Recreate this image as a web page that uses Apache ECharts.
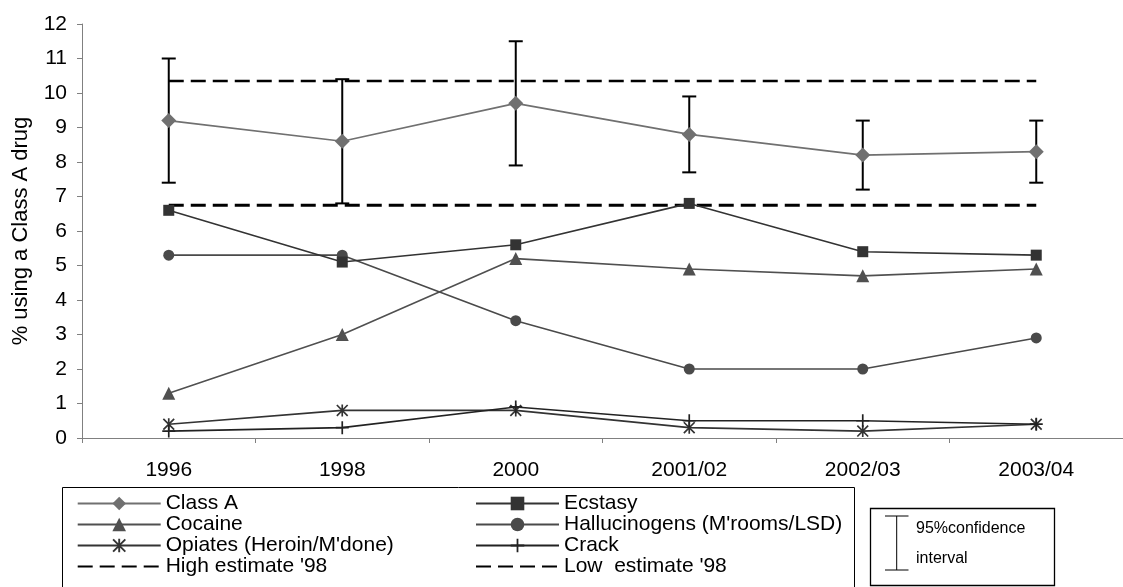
<!DOCTYPE html>
<html>
<head>
<meta charset="utf-8">
<script src="https://cdn.jsdelivr.net/npm/echarts@6/dist/echarts.min.js"></script>
<style>
html,body{margin:0;padding:0;background:#fff;}
#chart{width:1123px;height:587px;}
</style>
</head>
<body>
<div id="chart"></div>
<script>
const categories = ['1996', '1998', '2000', '2001/02', '2002/03', '2003/04'];
const classA = [9.2, 8.6, 9.7, 8.8, 8.2, 8.3];
const ciLow = [7.4, 6.8, 7.9, 7.7, 7.2, 7.4];
const ciHigh = [11.0, 10.4, 11.5, 9.9, 9.2, 9.2];
const ecstasy = [6.6, 5.1, 5.6, 6.8, 5.4, 5.3];
const cocaine = [1.3, 3.0, 5.2, 4.9, 4.7, 4.9];
const hallucinogens = [5.3, 5.3, 3.4, 2.0, 2.0, 2.9];
const opiates = [0.4, 0.8, 0.8, 0.3, 0.2, 0.4];
const crack = [0.2, 0.3, 0.9, 0.5, 0.5, 0.4];
const highEstimate98 = [10.35, 10.35, 10.35, 10.35, 10.35, 10.35];
const lowEstimate98 = [6.75, 6.75, 6.75, 6.75, 6.75, 6.75];
const yTicks = [0, 1, 2, 3, 4, 5, 6, 7, 8, 9, 10, 11, 12];

const FONT = 'Liberation Sans, Arial, sans-serif';
const asteriskPath = 'path://M4.3,0 L5.7,0 L5.7,10 L4.3,10 Z M0,1 L1,0 L10,9 L9,10 Z M9,0 L10,1 L1,10 L0,9 Z';
const plusPath = 'path://M4.35,0 L5.65,0 L5.65,4.35 L10,4.35 L10,5.65 L5.65,5.65 L5.65,10 L4.35,10 L4.35,5.65 L0,5.65 L0,4.35 L4.35,4.35 Z';

const ciData = categories.map((c, i) => [i, ciLow[i], ciHigh[i]]);

function lineSeries(name, data, color, symbol, size, z) {
  return {
    name: name, type: 'line', data: data,
    symbol: symbol, symbolSize: size, showSymbol: true,
    lineStyle: {color: color, width: 1.6},
    itemStyle: {color: color},
    emphasis: {disabled: true},
    animation: false, z: z || 3
  };
}

const legendText = {color: '#000', fontSize: 21, fontFamily: FONT, lineHeight: 20.3};
const hideSym = {opacity: 0};

const chart = echarts.init(document.getElementById('chart'));
const option = {
  animation: false,
  backgroundColor: '#fff',
  grid: {left: 82, top: 24, right: 0, bottom: 149, containLabel: false},
  xAxis: {
    type: 'category', data: categories, boundaryGap: true,
    axisLine: {lineStyle: {color: '#808080', width: 1}},
    axisTick: {show: true, length: 5, alignWithLabel: false, lineStyle: {color: '#808080'}},
    axisLabel: {color: '#000', fontSize: 21, fontFamily: FONT, margin: 22},
    splitLine: {show: false}
  },
  yAxis: {
    type: 'value', min: yTicks[0], max: yTicks[yTicks.length - 1], interval: 1,
    name: '% using a Class A drug', nameLocation: 'middle', nameGap: 50,
    nameTextStyle: {color: '#000', fontSize: 22, fontFamily: FONT},
    axisLine: {show: true, lineStyle: {color: '#808080', width: 1}},
    axisTick: {show: true, length: 5, lineStyle: {color: '#808080'}},
    axisLabel: {color: '#000', fontSize: 21, fontFamily: FONT, margin: 15},
    splitLine: {show: false}
  },
  legend: [
    {
      left: 76.7, top: 493, padding: 0, orient: 'vertical', itemWidth: 83, itemHeight: 17, itemGap: 0,
      textStyle: legendText, selectedMode: false,
      data: ['Class A', 'Cocaine', 'Opiates (Heroin/M\'done)', {name: 'High estimate \'98', itemStyle: hideSym}]
    },
    {
      left: 475, top: 493, padding: 0, orient: 'vertical', itemWidth: 83, itemHeight: 17, itemGap: 0,
      textStyle: legendText, selectedMode: false,
      data: ['Ecstasy', 'Hallucinogens (M\'rooms/LSD)', 'Crack', {name: 'Low  estimate \'98', itemStyle: hideSym}]
    }
  ],
  series: [
    {
      name: 'High estimate \'98', type: 'line', data: highEstimate98, symbol: 'none',
      lineStyle: {color: '#000', width: 2.6, type: [15, 7]}, itemStyle: {color: '#000'}, z: 1
    },
    {
      name: 'Low  estimate \'98', type: 'line', data: lowEstimate98, symbol: 'none',
      lineStyle: {color: '#000', width: 3, type: [15, 7]}, itemStyle: {color: '#000'}, z: 1
    },
    {
      name: 'CI', type: 'custom', data: ciData, z: 2,
      renderItem: function (params, api) {
        const x = api.value(0);
        const lo = api.coord([x, api.value(1)]);
        const hi = api.coord([x, api.value(2)]);
        const cap = 7;
        const st = {stroke: '#000', lineWidth: 2};
        return {
          type: 'group',
          children: [
            {type: 'line', shape: {x1: lo[0], y1: lo[1], x2: hi[0], y2: hi[1]}, style: st},
            {type: 'line', shape: {x1: lo[0] - cap, y1: lo[1], x2: lo[0] + cap, y2: lo[1]}, style: st},
            {type: 'line', shape: {x1: hi[0] - cap, y1: hi[1], x2: hi[0] + cap, y2: hi[1]}, style: st}
          ]
        };
      }
    },
    lineSeries('Opiates (Heroin/M\'done)', opiates, '#333333', asteriskPath, 12, 3),
    lineSeries('Crack', crack, '#222222', plusPath, 13, 3),
    lineSeries('Cocaine', cocaine, '#505050', 'triangle', 13, 4),
    lineSeries('Hallucinogens (M\'rooms/LSD)', hallucinogens, '#4a4a4a', 'circle', 11, 4),
    lineSeries('Ecstasy', ecstasy, '#333333', 'rect', 11, 4),
    lineSeries('Class A', classA, '#707070', 'diamond', 15, 5)
  ],
  graphic: [
    {type: 'rect', shape: {x: 62.5, y: 487.5, width: 792, height: 130}, style: {fill: 'none', stroke: '#000', lineWidth: 1}, silent: true, z: -1},
    {type: 'rect', shape: {x: 870.5, y: 508.5, width: 184, height: 77}, style: {fill: 'none', stroke: '#000', lineWidth: 1.3}, silent: true},
    {type: 'line', shape: {x1: 896.7, y1: 516, x2: 896.7, y2: 570}, style: {stroke: '#000', lineWidth: 1}, silent: true},
    {type: 'line', shape: {x1: 885, y1: 516, x2: 908.5, y2: 516}, style: {stroke: '#000', lineWidth: 1}, silent: true},
    {type: 'line', shape: {x1: 885, y1: 570, x2: 908.5, y2: 570}, style: {stroke: '#000', lineWidth: 1}, silent: true},
    {type: 'text', x: 916, y: 528.5, style: {text: '95%confidence', fill: '#000', fontSize: 16, fontFamily: FONT, verticalAlign: 'middle'}, silent: true},
    {type: 'text', x: 916, y: 558.5, style: {text: 'interval', fill: '#000', fontSize: 16, fontFamily: FONT, verticalAlign: 'middle'}, silent: true}
  ]
};
chart.setOption(option);
</script>
</body>
</html>
